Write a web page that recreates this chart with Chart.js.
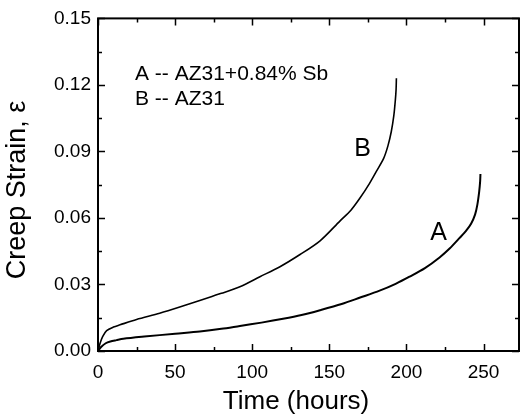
<!DOCTYPE html>
<html>
<head>
<meta charset="utf-8">
<script src="https://cdn.jsdelivr.net/npm/chart.js@4/dist/chart.umd.min.js"></script>
<style>
  html, body { margin: 0; padding: 0; background: #fff; }
  #wrap { width: 523px; height: 419px; }
</style>
</head>
<body>
<div id="wrap"><canvas id="creepChart" width="523" height="419"></canvas></div>
<script>
// Curve B -- AZ31 (time in hours, creep strain)
const timeB = [0, 1.3, 3, 5.6, 10, 14.3, 25, 40, 53, 66, 80, 92, 105, 118, 131, 144, 157, 164, 170, 176, 180.5, 185.3, 188, 190.2, 191.8, 192.8, 193.3, 193.5];
const strainB = [0, 0.0034, 0.0065, 0.0092, 0.0108, 0.0118, 0.0142, 0.0170, 0.0198, 0.0228, 0.0260, 0.0290, 0.0335, 0.0380, 0.0435, 0.0497, 0.0587, 0.0635, 0.0691, 0.0755, 0.0810, 0.0870, 0.0925, 0.0990, 0.1060, 0.1130, 0.1180, 0.1230];

// Curve A -- AZ31+0.84% Sb
const timeA = [0, 2, 5, 8, 12, 16.4, 30, 50, 66, 80, 92, 106, 120, 132, 144, 158, 170, 182.6, 193, 202, 212, 221.5, 228, 234.5, 239, 242, 244.5, 246, 247.2, 247.8, 248];
const strainA = [0, 0.0018, 0.0035, 0.0043, 0.0049, 0.0055, 0.0065, 0.0078, 0.0088, 0.0100, 0.0113, 0.0128, 0.0145, 0.0162, 0.0184, 0.0212, 0.0241, 0.0272, 0.0303, 0.0335, 0.0374, 0.0422, 0.0462, 0.0510, 0.0545, 0.0575, 0.0615, 0.0660, 0.0720, 0.0765, 0.0798];

// axis ranges / ticks
const xMin = 0, xMax = 273, xStep = 50, xMinor = 25;
const yMin = 0, yMax = 0.15, yStep = 0.03, yMinor = 0.015;

const xTitle = 'Time (hours)';
const yTitle = 'Creep Strain, \u03b5';

// text placed in data coordinates
const notes = [
  { text: 'A -- AZ31+0.84% Sb', x: 24, y: 0.125, size: 21, align: 'left' },
  { text: 'B -- AZ31', x: 24, y: 0.1137, size: 21, align: 'left' },
  { text: 'B', x: 171.6, y: 0.0909, size: 25, align: 'center' },
  { text: 'A', x: 220.8, y: 0.0533, size: 25, align: 'center' }
];

const FONT = 'Arial, "Liberation Sans", sans-serif';

function toPoints(xs, ys) {
  return xs.map((x, i) => ({ x: x, y: ys[i] }));
}

// frame, inward ticks, axis titles and text notes
const framePlugin = {
  id: 'frame',
  afterDraw(chart) {
    const ctx = chart.ctx;
    const a = chart.chartArea;
    const xs = chart.scales.x, ys = chart.scales.y;
    ctx.save();
    ctx.strokeStyle = '#000';
    ctx.lineWidth = 2;
    ctx.strokeRect(a.left, a.top, a.right - a.left, a.bottom - a.top);

    ctx.lineWidth = 1.5;
    ctx.beginPath();
    for (let v = xMin; v <= xMax + 1e-9; v += xMinor) {
      const px = Math.round(xs.getPixelForValue(v)) + 0.5;
      const len = (Math.round(v) % xStep === 0) ? 7 : 4;
      ctx.moveTo(px, a.bottom); ctx.lineTo(px, a.bottom - len);
      ctx.moveTo(px, a.top); ctx.lineTo(px, a.top + len);
    }
    for (let k = 0; k * yMinor <= yMax + 1e-9; k++) {
      const py = Math.round(ys.getPixelForValue(k * yMinor)) + 0.5;
      const len = (k % 2 === 0) ? 7 : 4;
      ctx.moveTo(a.left, py); ctx.lineTo(a.left + len, py);
      ctx.moveTo(a.right, py); ctx.lineTo(a.right - len, py);
    }
    ctx.stroke();

    ctx.fillStyle = '#000';
    ctx.textBaseline = 'middle';
    notes.forEach(n => {
      ctx.font = n.size + 'px ' + FONT;
      ctx.textAlign = n.align;
      ctx.fillText(n.text, xs.getPixelForValue(n.x), ys.getPixelForValue(n.y));
    });

    // axis titles
    ctx.textAlign = 'center';
    ctx.font = '26px ' + FONT;
    ctx.fillText(xTitle, a.left + 198, a.bottom + 51);
    ctx.translate(18, 190);
    ctx.rotate(-Math.PI / 2);
    ctx.font = '27px ' + FONT;
    ctx.fillText(yTitle, 0, 0);
    ctx.restore();
  }
};

const config = {
  type: 'scatter',
  data: {
    datasets: [
      {
        label: 'B -- AZ31',
        data: toPoints(timeB, strainB),
        showLine: true,
        borderColor: '#000',
        borderWidth: 1.6,
        pointRadius: 0,
        tension: 0.3
      },
      {
        label: 'A -- AZ31+0.84% Sb',
        data: toPoints(timeA, strainA),
        showLine: true,
        borderColor: '#000',
        borderWidth: 2,
        pointRadius: 0,
        tension: 0.3
      }
    ]
  },
  options: {
    responsive: false,
    animation: false,
    layout: { padding: { top: 16, right: 4, left: 0, bottom: 0 } },
    plugins: { legend: { display: false }, tooltip: { enabled: false } },
    scales: {
      x: {
        type: 'linear',
        min: xMin, max: xMax,
        grid: { display: false, drawTicks: false },
        border: { display: false },
        ticks: {
          stepSize: xStep, padding: 10, color: '#000',
          includeBounds: false, autoSkip: false,
          font: { family: FONT, size: 19 },
          callback: v => v
        },
        afterFit(scale) { scale.height = 68; }
      },
      y: {
        type: 'linear',
        min: yMin, max: yMax,
        grid: { display: false, drawTicks: false },
        border: { display: false },
        ticks: {
          stepSize: yStep, padding: 7, color: '#000',
          font: { family: FONT, size: 19 },
          callback: v => Number(v).toFixed(2)
        },
        afterFit(scale) { scale.width = 98; }
      }
    }
  },
  plugins: [framePlugin]
};

new Chart(document.getElementById('creepChart').getContext('2d'), config);
</script>
</body>
</html>
